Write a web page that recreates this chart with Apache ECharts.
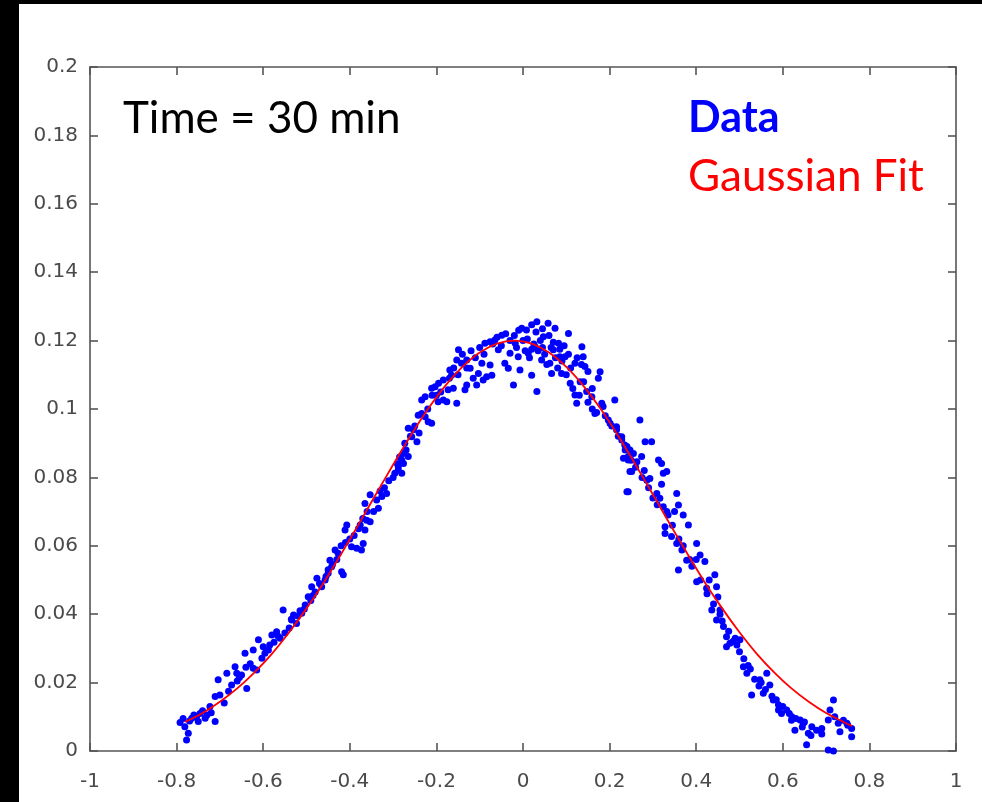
<!DOCTYPE html>
<html>
<head>
<meta charset="utf-8">
<script src="https://cdn.jsdelivr.net/npm/echarts@6/dist/echarts.min.js"></script>
<style>
  html, body { margin: 0; padding: 0; background: #ffffff; }
  #chart { width: 982px; height: 802px; }
</style>
</head>
<body>
<div id="chart"></div>
<script>
// ---- Data ----
const xTicks = [-1, -0.8, -0.6, -0.4, -0.2, 0, 0.2, 0.4, 0.6, 0.8, 1];
const yTicks = [0, 0.02, 0.04, 0.06, 0.08, 0.1, 0.12, 0.14, 0.16, 0.18, 0.2];

const dataLeft = [
  [-0.792,0.0083],[-0.777,0.0032],[-0.773,0.0052],[-0.781,0.0071],[-0.765,0.0096],[-0.754,0.0100],
  [-0.746,0.0110],[-0.734,0.0096],[-0.750,0.0086],[-0.711,0.0086],[-0.723,0.0130],[-0.711,0.0159],
  [-0.700,0.0164],[-0.704,0.0208],[-0.684,0.0227],[-0.673,0.0193],[-0.665,0.0246],[-0.661,0.0227],
  [-0.650,0.0222],[-0.638,0.0183],[-0.642,0.0286],[-0.623,0.0295],[-0.611,0.0325],[-0.623,0.0242],
  [-0.615,0.0237],[-0.596,0.0286],[-0.603,0.0271],[-0.588,0.0295],[-0.580,0.0339],[-0.569,0.0349],
  [-0.561,0.0330],[-0.554,0.0412],[-0.534,0.0383],[-0.530,0.0398],[-0.523,0.0373],[-0.511,0.0403],
  [-0.503,0.0427],[-0.496,0.0451],[-0.488,0.0480],[-0.476,0.0505],[-0.465,0.0480],[-0.457,0.0500],
  [-0.450,0.0520],[-0.442,0.0539],[-0.446,0.0558],[-0.434,0.0588],[-0.427,0.0578],[-0.419,0.0524],
  [-0.415,0.0515],[-0.411,0.0646],[-0.407,0.0661],[-0.396,0.0597],[-0.384,0.0593],[-0.373,0.0588],
  [-0.369,0.0607],[-0.376,0.0661],[-0.365,0.0646],[-0.361,0.0675],[-0.353,0.0670],[-0.365,0.0724],
  [-0.353,0.0749],[-0.338,0.0734],[-0.334,0.0710],[-0.326,0.0744],[-0.315,0.0753],[-0.296,0.0812],
  [-0.288,0.0831],[-0.280,0.0851],[-0.276,0.0870],
  [-0.785,0.0095],[-0.770,0.0088],[-0.760,0.0105],[-0.740,0.0118],[-0.730,0.0105],[-0.720,0.0112],
  [-0.690,0.0140],[-0.680,0.0175],[-0.660,0.0205],[-0.630,0.0255],[-0.600,0.0305],[-0.575,0.0318],
  [-0.550,0.0345],[-0.540,0.0360],[-0.520,0.0395],[-0.505,0.0415],[-0.490,0.0440],[-0.480,0.0465],
  [-0.470,0.0490],[-0.455,0.0510],[-0.440,0.0545],[-0.430,0.0560],[-0.420,0.0600],[-0.400,0.0620],
  [-0.390,0.0630],[-0.370,0.0680],[-0.345,0.0700],[-0.330,0.0760],[-0.310,0.0790],[-0.300,0.0800],
  [-0.290,0.0840],[-0.270,0.0880],[-0.260,0.0920],[-0.250,0.0950],
  [-0.655,0.0215],[-0.640,0.0245],[-0.585,0.0310],[-0.565,0.0335],[-0.535,0.0385],[-0.515,0.0410],
  [-0.485,0.0455],[-0.450,0.0530],[-0.410,0.0610],[-0.380,0.0650],[-0.360,0.0700],[-0.320,0.0770],
  [-0.285,0.0860],[-0.240,0.0930]
];

const dataPeak = [
  [-0.288,0.0822],[-0.276,0.0841],[-0.265,0.0861],[-0.280,0.0812],[-0.273,0.0900],[-0.265,0.0944],
  [-0.257,0.0919],[-0.253,0.0939],[-0.245,0.0904],[-0.242,0.0982],[-0.234,0.0987],[-0.226,0.0977],
  [-0.219,0.0963],[-0.211,0.0958],[-0.234,0.1026],[-0.226,0.1036],[-0.211,0.1061],[-0.203,0.1065],
  [-0.196,0.1021],[-0.184,0.1026],[-0.176,0.1021],[-0.173,0.1056],[-0.161,0.1061],[-0.153,0.1017],
  [-0.184,0.1085],[-0.169,0.1114],[-0.165,0.1099],[-0.153,0.1143],[-0.149,0.1173],[-0.142,0.1134],
  [-0.130,0.1143],[-0.122,0.1119],[-0.115,0.1090],[-0.134,0.1056],[-0.130,0.1070],[-0.107,0.1070],
  [-0.103,0.1104],[-0.095,0.1134],[-0.092,0.1085],[-0.084,0.1094],[-0.072,0.1099],[-0.076,0.1129],
  [-0.088,0.1192],[-0.076,0.1197],[-0.065,0.1202],[-0.057,0.1173],[-0.049,0.1216],[-0.042,0.1134],
  [-0.034,0.1119],[-0.030,0.1163],[-0.022,0.1070],[-0.018,0.1192],[-0.011,0.1153],[-0.007,0.1114],
  [-0.003,0.1236],[0.008,0.1231],[0.012,0.1163],[0.020,0.1246],[0.032,0.1255],[0.028,0.1182],
  [0.020,0.1099],[0.032,0.1051],[0.043,0.1143],[0.047,0.1211],[0.058,0.1251],[0.062,0.1134],
  [0.066,0.1104],[0.070,0.1173],[0.074,0.1236],[0.082,0.1192],[0.085,0.1153],[0.089,0.1104],
  [0.097,0.1153],[0.105,0.1221],[0.109,0.1075],[0.120,0.1134],[0.120,0.1041],[0.124,0.1017],
  [0.132,0.1080],[0.136,0.1182],[0.139,0.1153],[0.143,0.1124],[0.147,0.1051],[0.159,0.1036],
  [0.166,0.0987],[0.174,0.1090],[0.178,0.1109],[0.185,0.1007],[0.197,0.0968],[0.212,0.1026],
  [0.216,0.0948],[0.228,0.0919],[0.236,0.0880],[0.243,0.0861],[0.247,0.0817],[0.243,0.0758],
  [-0.220,0.1000],[-0.210,0.1040],[-0.190,0.1050],[-0.170,0.1090],[-0.160,0.1120],[-0.140,0.1160],
  [-0.120,0.1170],[-0.100,0.1180],[-0.090,0.1160],[-0.070,0.1190],[-0.060,0.1210],[-0.040,0.1220],
  [-0.030,0.1200],[-0.010,0.1230],[0.000,0.1200],[0.005,0.1170],[0.015,0.1150],[0.025,0.1190],
  [0.035,0.1170],[0.040,0.1200],[0.050,0.1160],[0.055,0.1130],[0.065,0.1180],[0.075,0.1150],
  [0.080,0.1120],[0.090,0.1140],[0.100,0.1100],[0.110,0.1120],[0.115,0.1060],[0.130,0.1040],
  [0.140,0.1080],[0.150,0.1020],[0.160,0.1000],[0.170,0.0990],[0.190,0.0980],
  [-0.050,0.1185],[-0.020,0.1215],[0.010,0.1205],[0.030,0.1225],[0.045,0.1235],[0.060,0.1215],
  [0.070,0.1195],[0.085,0.1175],[0.095,0.1185],[0.105,0.1160],[0.125,0.1150],[0.135,0.1130],
  [-0.110,0.1150],[-0.130,0.1120],[-0.150,0.1100],[-0.195,0.1075],[-0.200,0.1040],[0.150,0.1110],
  [0.160,0.1060],[0.045,0.1180],[0.020,0.1175],[-0.015,0.1180]
];

const dataRight = [
  [0.182,0.1017],[0.201,0.0958],[0.216,0.0939],[0.228,0.0909],[0.240,0.0890],[0.247,0.0880],
  [0.232,0.0856],[0.243,0.0851],[0.251,0.0817],[0.240,0.0758],[0.270,0.0968],[0.274,0.0861],
  [0.263,0.0846],[0.282,0.0904],[0.297,0.0904],[0.286,0.0792],[0.293,0.0797],[0.313,0.0851],
  [0.320,0.0841],[0.324,0.0812],[0.332,0.0817],[0.309,0.0753],[0.316,0.0739],[0.324,0.0714],
  [0.332,0.0700],[0.355,0.0753],[0.359,0.0719],[0.370,0.0690],[0.382,0.0661],[0.328,0.0656],
  [0.328,0.0636],[0.343,0.0627],[0.355,0.0607],[0.367,0.0588],[0.378,0.0558],[0.359,0.0529],
  [0.401,0.0607],[0.409,0.0573],[0.420,0.0554],[0.401,0.0495],[0.424,0.0476],[0.443,0.0515],
  [0.447,0.0480],[0.436,0.0412],[0.455,0.0412],[0.447,0.0383],[0.463,0.0364],[0.470,0.0334],
  [0.478,0.0315],[0.470,0.0305],[0.494,0.0310],[0.501,0.0325],[0.509,0.0246],[0.517,0.0227],
  [0.528,0.0164],[0.547,0.0208],[0.555,0.0169],[0.563,0.0227],[0.570,0.0193],[0.578,0.0149],
  [0.590,0.0135],[0.597,0.0110],[0.609,0.0120],[0.621,0.0100],[0.628,0.0061],[0.640,0.0091],
  [0.647,0.0081],[0.659,0.0052],[0.655,0.0018],[0.667,0.0071],[0.678,0.0061],[0.690,0.0066],
  [0.709,0.0120],[0.717,0.0149],[0.705,0.0091],[0.728,0.0081],[0.732,0.0056],[0.748,0.0081],
  [0.759,0.0066],[0.759,0.0042],[0.705,0.0003],[0.717,0.0000],
  [0.205,0.0950],[0.220,0.0920],[0.235,0.0895],[0.250,0.0850],[0.260,0.0830],[0.275,0.0800],
  [0.290,0.0770],[0.300,0.0740],[0.310,0.0720],[0.335,0.0690],[0.345,0.0660],[0.360,0.0620],
  [0.370,0.0600],[0.385,0.0560],[0.390,0.0540],[0.410,0.0500],[0.425,0.0460],[0.440,0.0430],
  [0.455,0.0400],[0.460,0.0380],[0.475,0.0350],[0.485,0.0320],[0.500,0.0290],[0.510,0.0270],
  [0.525,0.0240],[0.535,0.0210],[0.545,0.0190],[0.560,0.0180],[0.575,0.0160],[0.585,0.0150],
  [0.600,0.0130],[0.615,0.0110],[0.630,0.0095],[0.645,0.0070],[0.665,0.0045],[0.720,0.0100],
  [0.740,0.0090],
  [0.255,0.0870],[0.280,0.0820],[0.320,0.0780],[0.350,0.0700],[0.400,0.0560],[0.430,0.0500],
  [0.450,0.0450],[0.490,0.0330],[0.520,0.0250],[0.550,0.0200],[0.590,0.0120],[0.620,0.0090],
  [0.650,0.0085],[0.690,0.0050],[0.750,0.0075]
];

const fitX = [-0.78,-0.74,-0.70,-0.66,-0.62,-0.58,-0.54,-0.50,-0.46,-0.42,-0.38,-0.34,-0.30,-0.26,
  -0.22,-0.18,-0.14,-0.10,-0.06,-0.02,0.02,0.06,0.10,0.14,0.18,0.22,0.26,0.30,0.34,0.38,0.42,0.46,
  0.50,0.54,0.58,0.62,0.66,0.70,0.74,0.76];
const fitY = [0.0085,0.0111,0.0144,0.0183,0.0230,0.0284,0.0347,0.0417,0.0493,0.0576,0.0662,0.0750,
  0.0837,0.0921,0.0999,0.1067,0.1123,0.1165,0.1191,0.1200,0.1191,0.1165,0.1123,0.1067,0.0999,0.0921,
  0.0837,0.0750,0.0662,0.0576,0.0493,0.0417,0.0347,0.0284,0.0230,0.0183,0.0144,0.0111,0.0085,0.0073];

const titleText = 'Time = 30 min';
const legendData = 'Data';
const legendFit = 'Gaussian Fit';

// ---- Chart ----
const chart = echarts.init(document.getElementById('chart'), null, { renderer: 'canvas' });
const axisColor = '#555555';
const labelColor = '#4a4a4a';
const labelFont = '"DejaVu Sans", Verdana, sans-serif';
const textFont = 'Lato, "Open Sans", sans-serif';

const xAxisBase = {
  type: 'value', min: xTicks[0], max: xTicks[xTicks.length - 1], interval: 0.2,
  splitLine: { show: false },
  axisLine: { show: true, onZero: false, lineStyle: { color: axisColor, width: 1.6 } },
  axisTick: { show: true, inside: true, length: 8, lineStyle: { color: axisColor, width: 1.6 } }
};
const yAxisBase = {
  type: 'value', min: yTicks[0], max: yTicks[yTicks.length - 1], interval: 0.02,
  splitLine: { show: false },
  axisLine: { show: true, onZero: false, lineStyle: { color: axisColor, width: 1.6 } },
  axisTick: { show: true, inside: true, length: 8, lineStyle: { color: axisColor, width: 1.6 } }
};

const allData = dataLeft.concat(dataPeak, dataRight);

chart.setOption({
  animation: false,
  backgroundColor: '#ffffff',
  grid: { left: 90, right: 26, top: 67, bottom: 51, containLabel: false },
  xAxis: [
    Object.assign({}, xAxisBase, {
      position: 'bottom',
      axisLabel: { show: true, margin: 21, color: labelColor, fontSize: 20, fontFamily: labelFont,
        formatter: v => String(Math.round(v * 10) / 10) }
    }),
    Object.assign({}, xAxisBase, { position: 'top', axisLabel: { show: false } })
  ],
  yAxis: [
    Object.assign({}, yAxisBase, {
      position: 'left',
      axisLabel: { show: true, margin: 12, color: labelColor, fontSize: 20, fontFamily: labelFont,
        formatter: v => String(Math.round(v * 100) / 100) }
    }),
    Object.assign({}, yAxisBase, { position: 'right', axisLabel: { show: false } })
  ],
  series: [
    {
      type: 'scatter', name: legendData, data: allData,
      symbol: 'circle', symbolSize: 7,
      itemStyle: { color: '#0000ff', opacity: 1 },
      z: 2
    },
    {
      type: 'line', name: legendFit,
      data: fitX.map((x, i) => [x, fitY[i]]),
      smooth: 0.3, showSymbol: false, symbol: 'none',
      lineStyle: { color: '#ff0000', width: 1.8 },
      z: 3
    }
  ],
  graphic: [
    { type: 'rect', left: 0, top: 0, shape: { width: 982, height: 4 }, style: { fill: '#000000' }, z: 100 },
    { type: 'rect', left: 0, top: 0, shape: { width: 19, height: 802 }, style: { fill: '#000000' }, z: 100 },
    { type: 'text', left: 123, top: 97, z: 100,
      style: { text: titleText, fill: '#000000', font: '44px ' + textFont } },
    { type: 'text', left: 688, top: 97, z: 100,
      style: { text: legendData, fill: '#0000ff', font: 'bold 43px ' + textFont } },
    { type: 'text', left: 688, top: 155, z: 100,
      style: { text: legendFit, fill: '#ff0000', font: '44px ' + textFont } }
  ]
});
</script>
</body>
</html>
